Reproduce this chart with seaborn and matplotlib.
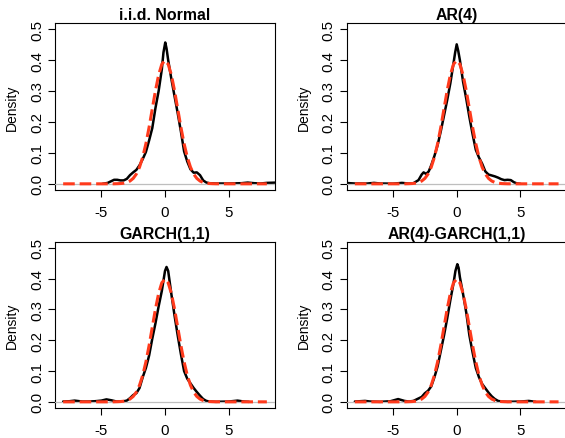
import numpy as np
import pandas as pd
import matplotlib
matplotlib.use("Agg")
import matplotlib.pyplot as plt
import seaborn as sns

titles = ["i.i.d. Normal", "AR(4)", "GARCH(1,1)", "AR(4)-GARCH(1,1)"]

# Standard normal reference density (red dashed)
norm_x = [-8.0, -6.0, -5.0, -4.5, -4.0, -3.75, -3.5, -3.25, -3.0, -2.75, -2.5, -2.25, -2.0, -1.75,
          -1.5, -1.25, -1.0, -0.75, -0.5, -0.25, 0.0, 0.25, 0.5, 0.75, 1.0, 1.25, 1.5, 1.75,
          2.0, 2.25, 2.5, 2.75, 3.0, 3.25, 3.5, 3.75, 4.0, 4.5, 5.0, 6.0, 8.0]
norm_y = [0.0, 0.0, 0.0, 0.0, 0.0001, 0.0004, 0.0009, 0.0020, 0.0044, 0.0091, 0.0175, 0.0317,
          0.0540, 0.0863, 0.1295, 0.1826, 0.2420, 0.3011, 0.3521, 0.3867, 0.3989, 0.3867,
          0.3521, 0.3011, 0.2420, 0.1826, 0.1295, 0.0863, 0.0540, 0.0317, 0.0175, 0.0091,
          0.0044, 0.0020, 0.0009, 0.0004, 0.0001, 0.0, 0.0, 0.0, 0.0]

# Kernel density estimates (black)
iid_x = [-4.9, -4.5, -4.25, -4.0, -3.75, -3.5, -3.25, -3.0, -2.75, -2.5, -2.25, -2.0, -1.75, -1.5,
         -1.25, -1.0, -0.75, -0.5, -0.25, -0.12, 0.02, 0.12, 0.25, 0.5, 0.75, 1.0, 1.25, 1.5,
         1.75, 2.0, 2.25, 2.5, 2.75, 3.0, 3.25, 3.5, 4.0, 5.0, 6.0, 6.5, 7.0, 7.5, 8.0, 8.8]
iid_y = [0.0, 0.003, 0.008, 0.013, 0.013, 0.011, 0.011, 0.016, 0.028, 0.037, 0.045, 0.060, 0.080,
         0.103, 0.140, 0.180, 0.245, 0.300, 0.370, 0.425, 0.457, 0.438, 0.400, 0.339, 0.283,
         0.228, 0.169, 0.105, 0.072, 0.047, 0.036, 0.037, 0.028, 0.011, 0.004, 0.002, 0.001,
         0.001, 0.002, 0.004, 0.002, 0.001, 0.003, 0.004]

ar_x = [-8.8, -8.0, -7.0, -6.5, -6.0, -5.0, -4.3, -3.8, -3.4, -3.0, -2.75, -2.6, -2.4, -2.2, -2.0,
        -1.75, -1.5, -1.25, -1.0, -0.75, -0.5, -0.25, -0.12, 0.0, 0.12, 0.25, 0.5, 0.75, 1.0,
        1.25, 1.5, 1.75, 2.0, 2.25, 2.5, 2.75, 3.0, 3.25, 3.5, 3.75, 4.0, 4.25, 4.5, 4.75, 5.0]
ar_y = [0.003, 0.001, 0.001, 0.003, 0.001, 0.0005, 0.003, 0.001, 0.002, 0.012, 0.030, 0.037,
        0.032, 0.040, 0.060, 0.090, 0.125, 0.170, 0.220, 0.270, 0.325, 0.390, 0.425, 0.451,
        0.430, 0.400, 0.330, 0.275, 0.215, 0.160, 0.110, 0.085, 0.065, 0.040, 0.030, 0.027,
        0.024, 0.020, 0.015, 0.012, 0.013, 0.012, 0.005, 0.001, 0.0]

garch_x = [-8.0, -7.5, -7.1, -6.5, -6.0, -5.5, -5.0, -4.6, -4.2, -3.8, -3.25, -3.0, -2.75, -2.5,
           -2.25, -2.0, -1.75, -1.5, -1.25, -1.0, -0.75, -0.5, -0.25, 0.0, 0.12, 0.25, 0.5,
           0.75, 1.0, 1.25, 1.5, 1.75, 2.0, 2.25, 2.5, 2.75, 3.0, 3.25, 3.5, 4.0, 5.0, 5.7,
           6.2, 6.6]
garch_y = [0.001, 0.002, 0.004, 0.001, 0.001, 0.002, 0.004, 0.008, 0.005, 0.001, 0.002, 0.004,
           0.012, 0.022, 0.028, 0.045, 0.080, 0.110, 0.150, 0.205, 0.255, 0.310, 0.360, 0.425,
           0.438, 0.425, 0.350, 0.280, 0.215, 0.155, 0.100, 0.075, 0.060, 0.045, 0.032, 0.020,
           0.009, 0.003, 0.001, 0.0, 0.001, 0.004, 0.001, 0.0]

argarch_x = [-8.0, -7.6, -7.2, -6.8, -6.0, -5.2, -4.6, -4.1, -3.75, -3.4, -3.0, -2.75, -2.5,
             -2.25, -2.0, -1.75, -1.5, -1.25, -1.0, -0.75, -0.5, -0.25, -0.1, 0.05, 0.15, 0.25,
             0.5, 0.75, 1.0, 1.25, 1.5, 1.75, 2.0, 2.25, 2.5, 2.75, 3.0, 3.25, 3.5, 4.0, 5.0,
             5.66, 6.2]
argarch_y = [0.001, 0.002, 0.003, 0.001, 0.0, 0.002, 0.009, 0.003, 0.001, 0.003, 0.011, 0.016,
             0.028, 0.036, 0.050, 0.080, 0.115, 0.165, 0.215, 0.270, 0.330, 0.385, 0.425, 0.447,
             0.435, 0.405, 0.350, 0.290, 0.215, 0.160, 0.110, 0.080, 0.058, 0.044, 0.030, 0.018,
             0.009, 0.003, 0.001, 0.0, 0.001, 0.003, 0.0]

kde_x = [iid_x, ar_x, garch_x, argarch_x]
kde_y = [iid_y, ar_y, garch_y, argarch_y]

x_ticks = [-5, 0, 5]
y_ticks = [0.0, 0.1, 0.2, 0.3, 0.4, 0.5]
y_ticklabels = ["0.0", "0.1", "0.2", "0.3", "0.4", "0.5"]

sns.set_style("ticks")
plt.rcParams["font.family"] = ["Liberation Sans", "DejaVu Sans"]
plt.rcParams.update({"text.color": "black", "axes.labelcolor": "black",
                     "xtick.color": "black", "ytick.color": "black",
                     "xtick.labelcolor": "black", "ytick.labelcolor": "black"})

W, H = 565, 439
fig = plt.figure(figsize=(W / 100, H / 100), dpi=100)

# axes boxes in pixels: (left, top, right, bottom)
boxes = [(55, 24, 275, 191), (346.7, 24, 566.7, 191),
         (55, 242.7, 275, 409), (346.7, 242.7, 566.7, 409)]

red = "#FF3A1C"
for i, (l, t, r, b) in enumerate(boxes):
    ax = fig.add_axes([l / W, 1 - b / H, (r - l) / W, (b - t) / H])
    ax.set_xlim(-8.64, 8.64)
    ax.set_ylim(-0.02, 0.52)
    df_k = pd.DataFrame({"x": kde_x[i], "y": kde_y[i]})
    df_n = pd.DataFrame({"x": norm_x, "y": norm_y})
    sns.lineplot(data=df_k, x="x", y="y", ax=ax, color="black", lw=1.8, zorder=2)
    ax.axhline(0, color="#BEBEBE", lw=0.9, zorder=3)
    sns.lineplot(data=df_n, x="x", y="y", ax=ax, color=red, lw=2.2, zorder=4,
                 dashes=False)
    ax.lines[-1].set_dashes([3.8, 1.6])
    ax.lines[-1].set_dash_capstyle("butt")
    ax.set_xticks(x_ticks)
    ax.set_xticklabels([str(v) for v in x_ticks])
    ax.set_yticks(y_ticks)
    ax.set_yticklabels(y_ticklabels, rotation=90, va="center")
    ax.tick_params(axis="both", direction="out", length=5, width=0.8,
                   labelsize=10.8, color="black", labelcolor="black")
    ax.tick_params(axis="x", pad=6)
    ax.tick_params(axis="y", pad=3)
    for s in ax.spines.values():
        s.set_visible(True)
        s.set_linewidth(0.8)
        s.set_color("black")
    ax.set_xlabel("")
    ax.set_ylabel("Density", fontsize=10, color="black")
    ax.yaxis.set_label_coords(-0.165, 0.5)
    ax.set_title(titles[i], fontsize=11.4, fontweight="bold", pad=3, color="black")

fig.savefig("out.png", dpi=100)
